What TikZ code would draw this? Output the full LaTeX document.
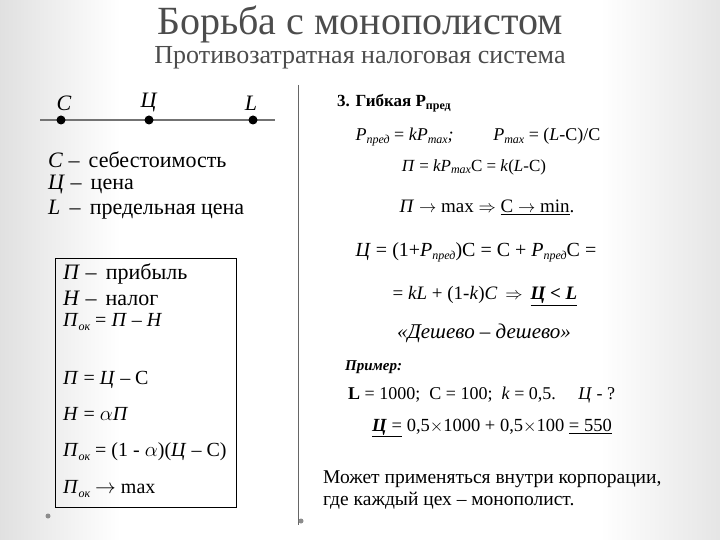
\documentclass[tikz,border=0pt]{standalone}
\usepackage{fontspec}
\setmainfont{Liberation Serif}
\usetikzlibrary{calc}
\tikzset{
 txt/.style={anchor=west,inner sep=0pt,font=\fontsize{17}{20}\selectfont},
 ctr/.style={anchor=center,inner sep=0pt,font=\fontsize{17}{20}\selectfont},
 big/.style={font=\fontsize{22}{24}\selectfont},
 mid/.style={font=\fontsize{20}{22}\selectfont},
 dot/.style={circle,fill=black,inner sep=0pt,minimum size=9pt},
}
\newcommand{\ii}[1]{\textit{#1}}
\newcommand{\sub}[1]{\raisebox{-0.35ex}{\fontsize{12}{12}\selectfont\itshape #1}}
\newcommand{\ul}[1]{\underline{#1}}
\begin{document}
\begin{tikzpicture}[x=1pt,y=-1pt]
\useasboundingbox (0,0) rectangle (720,540);
\fill[white] (0,0) rectangle (720,540);
\shade[left color=black!12,right color=white] (0,0) rectangle (120,540);
\shade[left color=white,right color=black!10] (600,0) rectangle (720,540);
\node[ctr,font=\fontsize{40}{42}\selectfont,text=black!70] (t1) at (360,24) {Борьба с монополистом};
\node[ctr,font=\fontsize{26}{28}\selectfont,text=black!70] (t2) at (360,58) {Противозатратная налоговая система};
% number line
\coordinate (l0) at (40,120); \coordinate (l1) at (275,120);
\draw[line width=1.2pt,black!55] (l0) -- (l1);
\node[dot] (dC) at (61,120) {}; \node[dot] (dTs) at (149,120) {}; \node[dot] (dL) at (253,120) {};
\node[ctr,big] (lC) at (64,103) {\ii{С}};
\node[ctr,big] (lTs) at (149,103) {\ii{Ц}};
\node[ctr,big] (lL) at (251,103) {\ii{L}};
\node[txt,big] (d1) at (48,160) {\ii{С} –\, себестоимость};
\node[txt,big] (d2) at (48,185) {\ii{Ц} –\, цена};
\node[txt,big] (d3) at (48,210) {\ii{L} \,–\, предельная цена};
% separator
\coordinate (s0) at (298,85); \coordinate (s1) at (298,525);
\draw[black!60,line width=0.8pt] (s0) -- (s1);
% box
\node[draw,line width=0.8pt,minimum width=181pt,minimum height=249pt,anchor=north west,inner sep=0pt] (box) at (55,258) {};
\node[txt,big] (b1) at (63,274) {\ii{П} –\, прибыль};
\node[txt,big] (b2) at (63,298) {\ii{Н} –\, налог};
\node[txt,mid] (b3) at (63,322) {\ii{П}\sub{ок} = \ii{П} – \ii{Н}};
\node[txt,mid] (b4) at (63,380) {\ii{П} = \ii{Ц} – С};
\node[txt,mid] (b5) at (63,414) {\ii{Н} = $\alpha$\ii{П}};
\node[txt,mid] (b6) at (63,452) {\ii{П}\sub{ок} = (1 - $\alpha$)(\ii{Ц} – С)};
\node[txt,mid] (b7) at (63,489) {\ii{П}\sub{ок} $\rightarrow$ max};
\node[circle,fill=black!45,inner sep=0pt,minimum size=5pt] (g1) at (48,516) {};
\node[circle,fill=black!45,inner sep=0pt,minimum size=5pt] (g2) at (301,521) {};
% right column
\node[txt] (r1) at (337,103) {\textbf{3. Гибкая Р\raisebox{-0.4ex}{\fontsize{12}{12}\selectfont пред}}};
\node[ctr,font=\fontsize{18}{20}\selectfont] (r2) at (478,137) {\ii{P}\sub{пред} = \ii{kP}\sub{max}\ii{;}\hspace{2.2em}\ii{P}\sub{max} = (\ii{L}-C)/C};
\node[ctr] (r3) at (474,167) {\ii{П} = \ii{kP}\sub{max}C = \ii{k}(\ii{L}-C)};
\node[ctr,font=\fontsize{19}{22}\selectfont] (r4) at (487,207) {\ii{П} $\rightarrow$ max $\Rightarrow$ \ul{C $\rightarrow$ min}.};
\node[ctr,font=\fontsize{20}{23}\selectfont] (r5) at (476,252) {\ii{Ц} = (1+\ii{P}\sub{пред})C = C + \ii{P}\sub{пред}C =};
\node[ctr,font=\fontsize{19}{21}\selectfont] (r6) at (485,296) {= \ii{kL} + (1-\ii{k})\ii{C} \,$\Rightarrow$\, \ul{\textbf{\textit{Ц < L}}}};
\node[ctr,font=\fontsize{21}{23}\selectfont] (r7) at (484,333) {\textit{«Дешево – дешево»}};
\node[txt,font=\fontsize{15}{18}\selectfont] (r8) at (345,367) {\textbf{\textit{Пример:}}};
\node[txt,font=\fontsize{18}{20}\selectfont] (r9) at (348,395) {\textbf{L} = 1000;\ \ C = 100;\ \ \ii{k} = 0,5.\quad\ \ii{Ц} - ?};
\node[ctr,font=\fontsize{18.5}{20}\selectfont] (r10) at (492,428) {\ul{\textbf{\textit{Ц}} =} 0,5$\times$1000 + 0,5$\times$100 \ul{= 550}};
\node[txt,align=left,font=\fontsize{19.5}{22}\selectfont] (r11) at (323,490) {Может применяться внутри корпорации,\\где каждый цех – монополист.};
\end{tikzpicture}
\end{document}
